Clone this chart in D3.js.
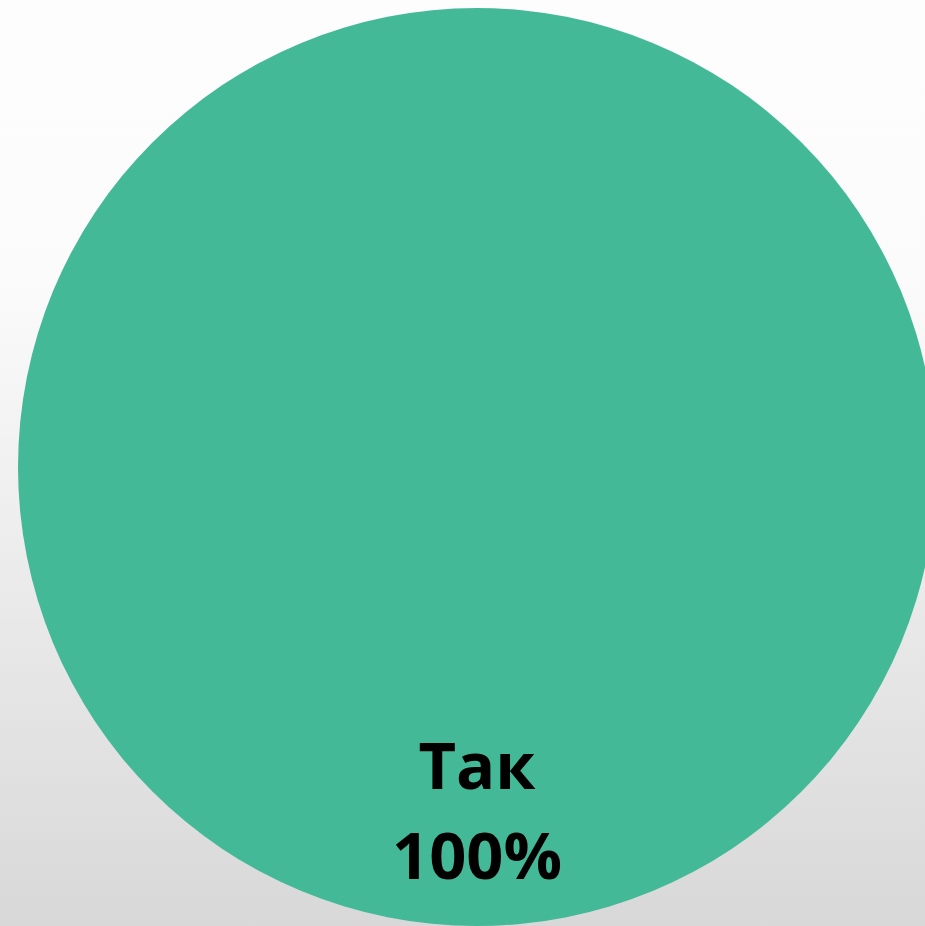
<!DOCTYPE html>
<html>
<head>
<meta charset="utf-8">
<script src="https://cdn.jsdelivr.net/npm/d3@7"></script>
<style>
  html, body { margin: 0; padding: 0; overflow: hidden; }
  svg { display: block; }
</style>
</head>
<body>
<script>
const categories = ["Так"];
const values = [100];
const colors = ["#43b997"];

const W = 925, H = 926;
const cx = 477, cy = 467, R = 459;

const svg = d3.select("body").append("svg").attr("width", W).attr("height", H);

const defs = svg.append("defs");
const grad = defs.append("linearGradient").attr("id", "bg").attr("x1", 0).attr("y1", 0).attr("x2", 0).attr("y2", 1);
grad.append("stop").attr("offset", "0%").attr("stop-color", "#fdfdfd");
grad.append("stop").attr("offset", "30%").attr("stop-color", "#fbfbfb");
grad.append("stop").attr("offset", "100%").attr("stop-color", "#d8d8d8");
svg.append("rect").attr("width", W).attr("height", H).attr("fill", "url(#bg)");

const data = categories.map((c, i) => ({ cat: c, value: values[i] }));
const total = d3.sum(values);
const pie = d3.pie().sort(null).value(d => d.value);
const arc = d3.arc().innerRadius(0).outerRadius(R);

const g = svg.append("g").attr("transform", `translate(${cx},${cy})`);
const arcs = pie(data);
g.selectAll("path").data(arcs).join("path")
  .attr("d", arc)
  .attr("fill", (d, i) => colors[i]);

// label placed at the bottom of the (full-circle) slice
const labelG = g.selectAll("g.lbl").data(arcs).join("g").attr("class", "lbl");
labelG.each(function(d) {
  const sel = d3.select(this);
  const mid = (d.startAngle + d.endAngle) / 2;
  const full = (d.endAngle - d.startAngle) >= 2 * Math.PI - 1e-6;
  const ang = full ? Math.PI : mid;
  const rr = R * 0.80;
  const x = rr * Math.sin(ang);
  const y = -rr * Math.cos(ang);
  const t = sel.append("text")
    .attr("text-anchor", "middle")
    .attr("font-family", "'Open Sans', sans-serif")
    .attr("font-weight", 700)
    .attr("font-size", 65)
    .attr("fill", "#000");
  t.append("tspan").attr("x", x).attr("y", y - 45).text(d.data.cat);
  t.append("tspan").attr("x", x).attr("y", y + 45).text(d3.format(".0%")(d.data.value / total));
});
</script>
</body>
</html>
